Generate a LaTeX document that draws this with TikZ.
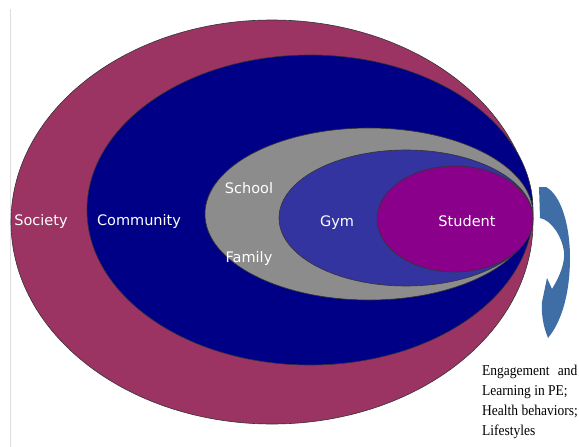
\documentclass[tikz,border=0pt]{standalone}
\usepackage{fontspec}
\setmainfont{Liberation Serif}
\setsansfont{DejaVu Sans}
\definecolor{society}{RGB}{155,52,98}
\definecolor{community}{RGB}{0,0,135}
\definecolor{schoolgray}{RGB}{140,140,140}
\definecolor{gym}{RGB}{52,52,160}
\definecolor{student}{RGB}{138,0,138}
\definecolor{flowblue}{RGB}{63,110,166}
\definecolor{rulegray}{RGB}{222,222,222}
\begin{document}
\begin{tikzpicture}[x=1pt,y=-1pt,
  ring/.style={draw=black!80, line width=0.6pt},
  lab/.style={font=\sffamily\fontsize{14.5}{16}\selectfont, text=white, anchor=base, inner sep=0pt},
  outcome/.style={font=\fontsize{15}{19.8}\selectfont, align=left, anchor=base west, inner sep=0pt, xscale=0.9}]
\useasboundingbox (0,0) rectangle (579,447);
% thin rule along the left margin
\draw[rulegray, line width=0.8pt] (10,9) -- (10,447);
% nested spheres of influence, all touching on the right
\draw[ring, fill=society]    (272,222) ellipse [x radius=261pt, y radius=202pt];
\draw[ring, fill=community]  (310,210) ellipse [x radius=223pt, y radius=155pt];
\draw[ring, fill=schoolgray] (369,214) ellipse [x radius=164pt, y radius=86pt];
\draw[ring, fill=gym]        (406,218) ellipse [x radius=127pt, y radius=68pt];
\draw[ring, fill=student]    (455,219) ellipse [x radius=78pt, y radius=53pt];
% labels
\node[lab] (society)   at (41,225)  {Society};
\node[lab] (community) at (139,225) {Community};
\node[lab] (school)    at (249,193) {School};
\node[lab] (family)    at (249,262) {Family};
\node[lab] (gymlab)    at (337,226) {Gym};
\node[lab] (studentlab) at (467,226) {Student};
% curved arrow leading to the outcomes
\fill[flowblue] (539,187) -- (546,187)
  .. controls (561,195) and (570,225) .. (570,258)
  .. controls (570,290) and (563,320) .. (548,338)
  .. controls (544,328) and (541,316) .. (542,302)
  -- (547,278) -- (552,289)
  .. controls (560,276) and (565,263) .. (564,252)
  .. controls (562,236) and (551,220) .. (540,218)
  -- cycle;
% the node's base anchor sits on its last line
\node[outcome] (outcomes) at (482,435) {Engagement\hspace{0.6em}and\\Learning in PE;\\Health behaviors;\\Lifestyles};
\end{tikzpicture}
\end{document}
